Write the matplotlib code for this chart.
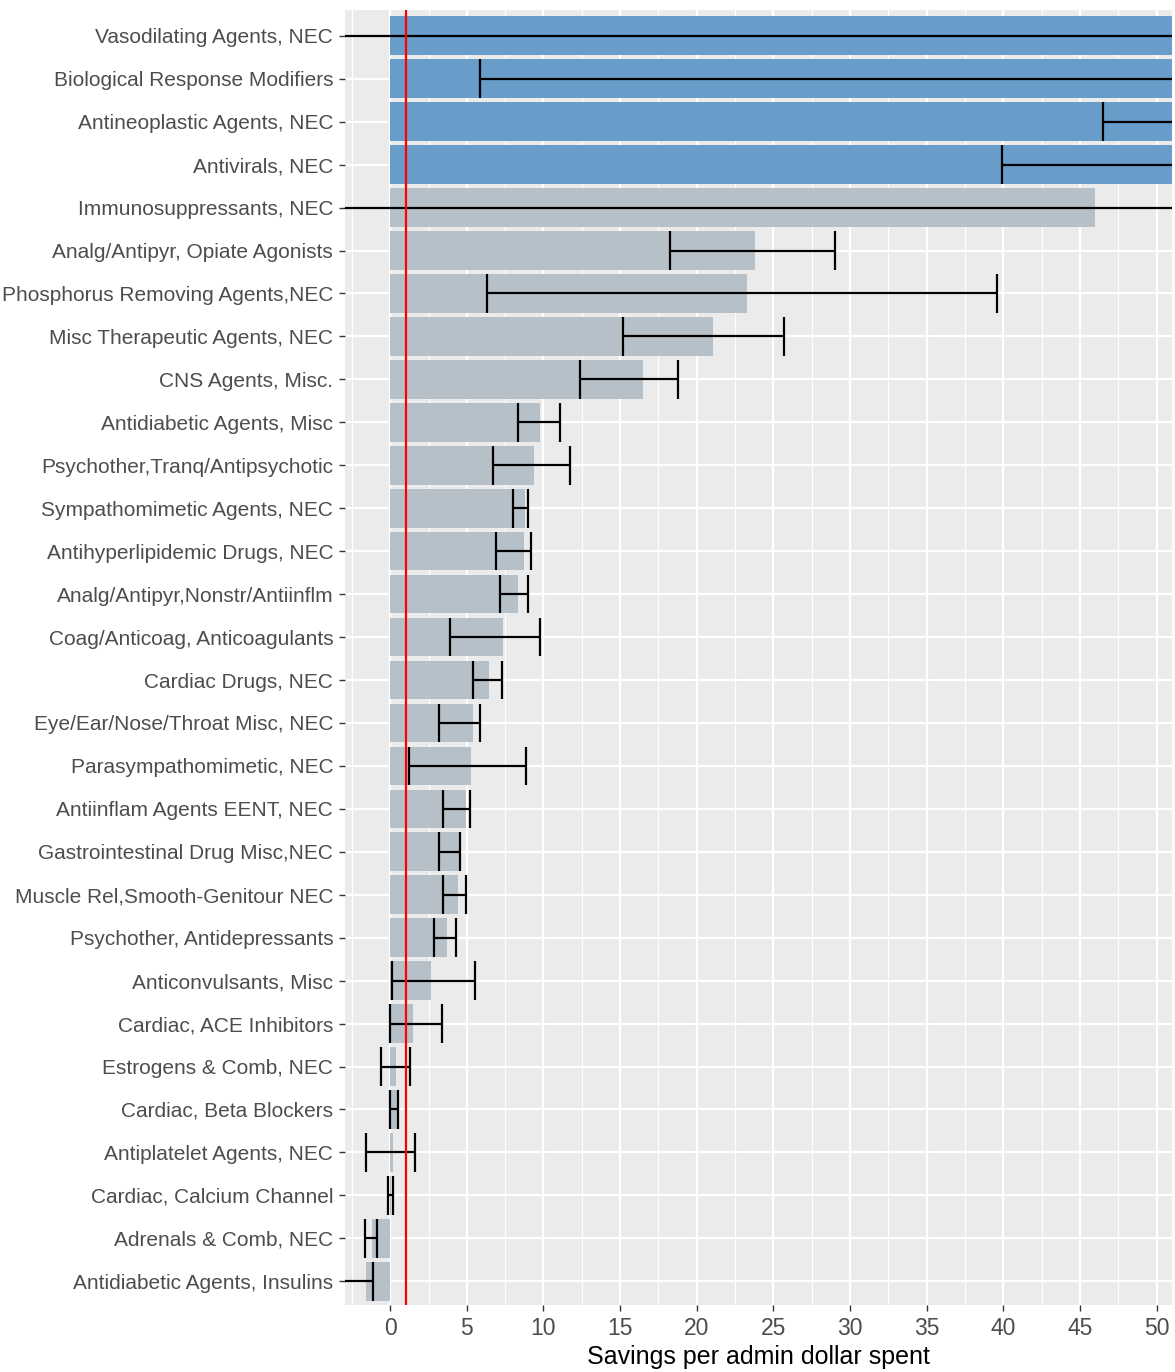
import matplotlib
matplotlib.use("Agg")
import matplotlib.pyplot as plt
import numpy as np

plt.rcParams['font.family'] = ['Liberation Sans', 'DejaVu Sans']

categories = [
    "Vasodilating Agents, NEC", "Biological Response Modifiers", "Antineoplastic Agents, NEC",
    "Antivirals, NEC", "Immunosuppressants, NEC", "Analg/Antipyr, Opiate Agonists",
    "Phosphorus Removing Agents,NEC", "Misc Therapeutic Agents, NEC", "CNS Agents, Misc.",
    "Antidiabetic Agents, Misc", "Psychother,Tranq/Antipsychotic", "Sympathomimetic Agents, NEC",
    "Antihyperlipidemic Drugs, NEC", "Analg/Antipyr,Nonstr/Antiinflm", "Coag/Anticoag, Anticoagulants",
    "Cardiac Drugs, NEC", "Eye/Ear/Nose/Throat Misc, NEC", "Parasympathomimetic, NEC",
    "Antiinflam Agents EENT, NEC", "Gastrointestinal Drug Misc,NEC", "Muscle Rel,Smooth-Genitour NEC",
    "Psychother, Antidepressants", "Anticonvulsants, Misc", "Cardiac, ACE Inhibitors",
    "Estrogens & Comb, NEC", "Cardiac, Beta Blockers", "Antiplatelet Agents, NEC",
    "Cardiac, Calcium Channel", "Adrenals & Comb, NEC", "Antidiabetic Agents, Insulins",
]
values = [120.0, 90.0, 75.0, 62.0, 46.0, 23.8, 23.3, 21.05, 16.5, 9.75, 9.4, 8.77, 8.75, 8.34,
          7.34, 6.47, 5.38, 5.27, 4.92, 4.53, 4.43, 3.73, 2.69, 1.5, 0.4, 0.47, 0.2, 0.08, -1.2, -1.55]
lower = [-10.0, 5.85, 46.5, 39.9, -8.0, 18.25, 6.3, 15.2, 12.35, 8.34, 6.73, 7.99, 6.88, 7.19,
         3.92, 5.4, 3.16, 1.23, 3.45, 3.16, 3.42, 2.86, 0.12, 0.0, -0.63, 0.0, -1.56, -0.15, -1.65, -4.0]
upper = [250.0, 180.0, 103.0, 84.0, 100.0, 29.0, 39.6, 25.7, 18.8, 11.06, 11.7, 9.0, 9.2, 8.99,
         9.77, 7.32, 5.84, 8.84, 5.19, 4.53, 4.93, 4.27, 5.51, 3.4, 1.26, 0.49, 1.6, 0.18, -0.84, -1.15]
highlight = [True, True, True, True] + [False] * 26
ref_value = 1.0
x_ticks = [0, 5, 10, 15, 20, 25, 30, 35, 40, 45, 50]

fig = plt.figure(figsize=(11.75, 13.72), dpi=100)
ax = fig.add_axes([0.2936, 0.0489, 0.9974 - 0.2936, 0.9927 - 0.0489])
ax.set_facecolor('#EBEBEB')

n = len(categories)
y = np.arange(n)[::-1]

# grid
for xm in np.arange(-2.5, 52.5, 5):
    ax.axvline(xm, color='white', lw=0.8, zorder=0)
for xt in x_ticks:
    ax.axvline(xt, color='white', lw=1.6, zorder=0)
for yy in y:
    ax.axhline(yy, color='white', lw=1.6, zorder=0)

colors = ['#679DC8' if h else '#B6C0C8' for h in highlight]
ax.barh(y, values, height=0.9, color=colors, zorder=2)

ax.hlines(y, lower, upper, color='black', lw=1.6, zorder=3)
ax.vlines(lower, y - 0.45, y + 0.45, color='black', lw=1.6, zorder=3)
ax.vlines(upper, y - 0.45, y + 0.45, color='black', lw=1.6, zorder=3)

ax.axvline(ref_value, color='#FF0000', lw=1.6, zorder=4)

ax.set_xlim(-2.95, 51.0)
ax.set_ylim(-0.55, n - 1 + 0.6)
ax.set_xticks(x_ticks)
ax.set_yticks(y)
ax.set_yticklabels(categories)
for s in ax.spines.values():
    s.set_visible(False)
ax.tick_params(axis='both', colors='#333333', length=4, width=1.0,
               labelcolor='#4D4D4D', labelsize=15, pad=4.5)
ax.tick_params(axis='x', labelsize=16.5, pad=5)
ax.set_xlabel('Savings per admin dollar spent', fontsize=18, color='black', labelpad=3)

fig.savefig('out.png', dpi=100)
